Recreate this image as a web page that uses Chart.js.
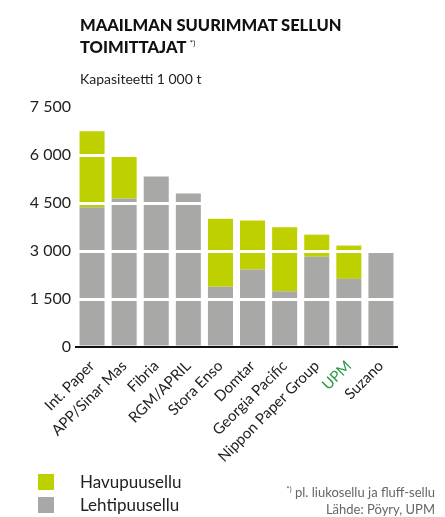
<!DOCTYPE html>
<html>
<head>
<meta charset="utf-8">
<script src="https://cdn.jsdelivr.net/npm/chart.js@4"></script>
<style>
  body { margin: 0; background: #fff; font-family: Lato, "Open Sans", sans-serif; color: #222; }
  #wrap { position: relative; width: 445px; height: 517px; }
  #graf { position: absolute; left: 0; top: 0; }
  .otsikko { position: absolute; left: 80px; top: 16px; font-weight: 900; font-size: 16.5px; line-height: 18px; letter-spacing: 0px; color: #111; }
  .otsikko sup { font-size: 8px; font-weight: 400; }
  .ala { position: absolute; left: 80px; top: 70px; font-size: 14px; }
  .selite { position: absolute; left: 38px; font-size: 17px; }
  .selite span { position: absolute; left: 0; width: 16px; height: 16px; }
  .selite b { position: absolute; left: 42px; font-weight: 400; white-space: nowrap; }
  .lahde { position: absolute; right: 10px; top: 481px; font-size: 13px; line-height: 17px; color: #666; text-align: right; }
</style>
</head>
<body>
<div id="wrap">
  <canvas id="graf" width="445" height="517"></canvas>
  <div class="otsikko">MAAILMAN SUURIMMAT SELLUN<br>TOIMITTAJAT <sup>*)</sup></div>
  <div class="ala">Kapasiteetti 1 000 t</div>
  <div id="selitteet"></div>
  <div class="lahde"><sup style="font-size:8px">*)</sup> pl. liukosellu ja fluff-sellu<br>Lähde: Pöyry, UPM</div>
</div>
<script>
// Yritykset ja kapasiteetit (1 000 t)
const yritykset = ["Int. Paper", "APP/Sinar Mas", "Fibria", "RGM/APRIL", "Stora Enso", "Domtar", "Georgia Pacific", "Nippon Paper Group", "UPM", "Suzano"];
const lehtipuusellu = [4370, 4640, 5330, 4800, 1880, 2420, 1740, 2820, 2130, 2950];
const havupuusellu = [2370, 1320, 0, 0, 2130, 1530, 2000, 690, 1040, 0];
const yTicks = [0, 1500, 3000, 4500, 6000, 7500];

const vihrea = '#bfd000';
const harmaa = '#a8a8a7';

// selitteet
const selitteet = [["Havupuusellu", vihrea, 474], ["Lehtipuusellu", harmaa, 497]];
let html = "";
for (let s of selitteet) {
    html += `<div class="selite" style="top:${s[2]}px"><span style="background:${s[1]}"></span><b style="top:-3px">${s[0]}</b></div>`;
}
document.getElementById("selitteet").innerHTML = html;

function muotoile(v) {
    return v.toString().replace(/\B(?=(\d{3})+(?!\d))/g, " ");
}

const ctx = document.getElementById('graf').getContext('2d');
new Chart(ctx, {
    type: 'bar',
    data: {
        labels: yritykset,
        datasets: [
            { label: 'Lehtipuusellu', data: lehtipuusellu, backgroundColor: harmaa },
            { label: 'Havupuusellu', data: havupuusellu, backgroundColor: vihrea }
        ]
    },
    options: {
        responsive: false,
        animation: false,
        layout: { padding: { left: 0, right: 48, top: 107, bottom: 0 } },
        plugins: { legend: { display: false }, tooltip: { enabled: false } },
        datasets: { bar: { categoryPercentage: 1, barPercentage: 0.78 } },
        scales: {
            x: {
                stacked: true,
                grid: { display: false },
                border: { color: '#111', width: 2, z: 2 },
                ticks: {
                    maxRotation: 45, minRotation: 45, padding: 2,
                    font: { family: 'Lato', size: 15 },
                    color: (c) => c.index === 8 ? '#2e9a48' : '#222'
                },
                afterFit: (s) => { s.height = 170; }
            },
            y: {
                stacked: true,
                min: 0, max: 7500,
                border: { display: false },
                afterBuildTicks: (s) => { s.ticks = yTicks.map(v => ({ value: v })); },
                grid: {
                    z: 1,
                    color: (c) => c.tick && c.tick.value === 0 ? 'rgba(0,0,0,0)' : '#fff',
                    lineWidth: 3,
                    drawTicks: false
                },
                ticks: {
                    padding: 5,
                    font: { family: 'Lato', size: 16 },
                    color: '#222',
                    callback: (v) => muotoile(v)
                },
                afterFit: (s) => { s.width = 76; }
            }
        }
    }
});
</script>
</body>
</html>
